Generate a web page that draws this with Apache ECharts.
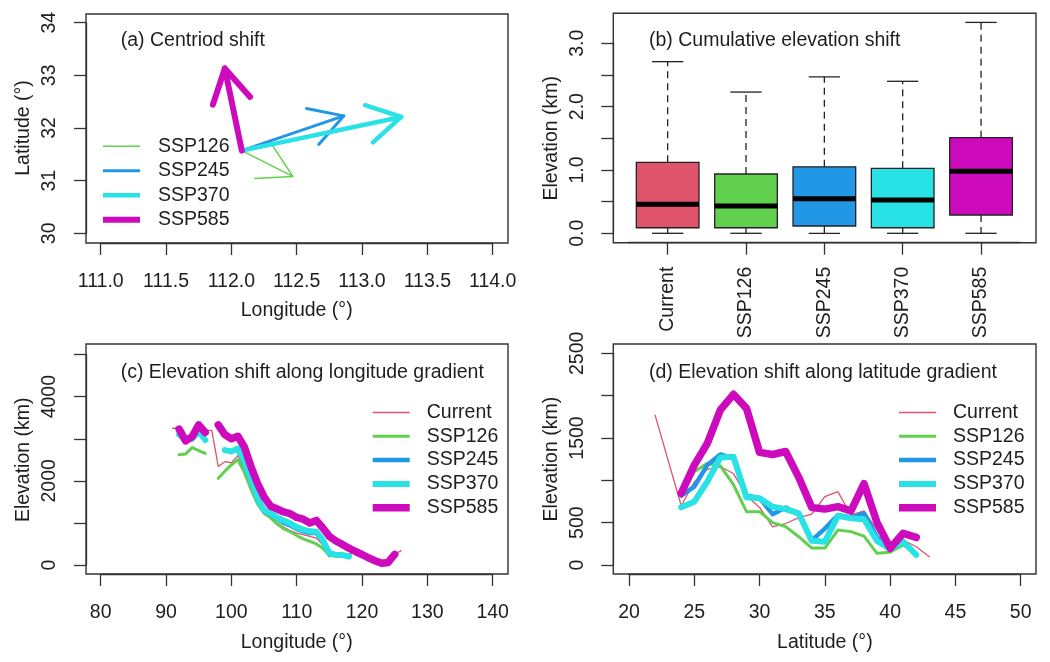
<!DOCTYPE html>
<html>
<head>
<meta charset="utf-8">
<script src="https://cdn.jsdelivr.net/npm/echarts@6/dist/echarts.min.js"></script>
<style>
html, body { margin: 0; padding: 0; background: #fff; }
#chart { width: 1050px; height: 662px; }
</style>
</head>
<body>
<div id="chart"></div>
<script>
// ---- data ----
const scenarios = ['SSP126', 'SSP245', 'SSP370', 'SSP585'];
const groups = ['Current', 'SSP126', 'SSP245', 'SSP370', 'SSP585'];

// (a) centroid shift: common start, one end per scenario
const startLon = 112.08, startLat = 31.57;
const endLon = [112.47, 112.86, 113.30, 111.95];
const endLat = [31.08, 32.23, 32.21, 33.13];

// (b) cumulative elevation shift (km)
const boxMin = [0, 0, 0, 0, 0];
const boxQ1 = [0.088, 0.088, 0.115, 0.088, 0.289];
const boxMed = [0.458, 0.43, 0.547, 0.526, 0.979];
const boxQ3 = [1.12, 0.936, 1.05, 1.026, 1.51];
const boxMax = [2.71, 2.23, 2.47, 2.40, 3.33];

// (c) elevation along longitude, 91..126
const lonC = [91, 92, 93, 94, 95, 96, 97, 98, 99, 100, 101, 102, 103, 104, 105, 106, 107, 108,
  109, 110, 111, 112, 113, 114, 115, 116, 117, 118, 119, 120, 121, 122, 123, 124, 125, 126];
const lonCurrent = [3250, 3250, 2950, 3050, 3300, 3200, 3200, 2340, 2455, 2430, 2600, 2250, 1900, 1500,
  1250, 1150, 1000, 900, 820, 760, 720, 680, 640, 480, 260, 240, 230, 250, 300, 250, 160, 80, 40, 60, 260, 340];
const lon126 = [null, 2620, 2640, 2790, 2720, 2650, null, 2060, 2230, 2380, 2500, 2200, 1800, 1450,
  1230, 1120, 980, 860, 790, 700, 620, 560, 500, 400, 220, 220, 230, null, null, null, null, null, null, null, null, null];
const lon245 = [null, 3150, 2980, 3000, 3150, 2980, null, null, 2720, 2700, 2750, 2400, 2000, 1580,
  1280, 1200, 1100, 1000, 940, 860, 800, 760, 760, 560, 260, 240, 240, 220, null, null, null, null, null, null, null, null];
const lon370 = [null, 3100, 2970, 3000, 3180, 2970, null, null, 2730, 2700, 2770, 2450, 2050, 1600,
  1300, 1230, 1130, 1060, 990, 900, 840, 800, 790, 590, 280, 240, 238, 200, null, null, null, null, null, null, null, null];
const lon585 = [null, 3230, 2950, 3050, 3330, 3150, null, 3330, 3100, 3000, 3060, 2800, 2340, 1940,
  1620, 1400, 1330, 1260, 1220, 1130, 1090, 1000, 1060, 880, 680, 570, 490, 400, 320, 250, 170, 100, 40, 60, 250, null];

// (d) elevation along latitude, 22..43
const latD = [22, 23, 24, 25, 26, 27, 28, 29, 30, 31, 32, 33, 34, 35, 36, 37, 38, 39, 40, 41, 42, 43];
const latCurrent = [1770, null, 700, 980, 1130, 1160, 1080, 820, 680, 450, 490, 560, 600, 807, 866, 590, 640, 413, 177, 295, 216, 98];
const lat126 = [null, null, 830, 1102, 1201, 1170, 950, 630, 630, 500, 453, 334, 200, 200, 413, 394, 340, 138, 150, 236, 138, null];
const lat245 = [null, null, 820, 925, 1181, 1305, 1260, 820, 790, 600, 680, 600, 290, 430, 590, 560, 610, 330, 190, 275, 120, null];
const lat370 = [null, null, 681, 748, 984, 1270, 1279, 800, 788, 689, 660, 610, 285, 275, 580, 551, 540, 285, 190, 275, 120, null];
const lat585 = [null, null, 847, 1180, 1437, 1831, 2016, 1850, 1330, 1305, 1340, 1035, 680, 660, 689, 640, 960, 500, 197, 374, 327, null];

// ---- style ----
const FONT = "'Liberation Sans', Arial, sans-serif";
const INK = '#1e1e1e';
const colors = {Current: '#DF536B', SSP126: '#61D04F', SSP245: '#2297E6', SSP370: '#28E2E5', SSP585: '#CD0BBC'};
const txt = {fontFamily: FONT, fontSize: 19.5, color: INK};

function frame(left, top, width, height) {
  return {left, top, width, height, show: true, borderColor: '#333', borderWidth: 1.4,
    backgroundColor: 'transparent', outerBoundsMode: 'none'};
}
function plot(left, top, width, height) {
  return {left, top, width, height, outerBoundsMode: 'none', containLabel: false};
}
function axis(gridIndex, offset, extra) {
  return Object.assign({
    gridIndex, offset, nameLocation: 'middle',
    axisLine: {show: true, onZero: false, lineStyle: {color: '#333', width: 1.3}},
    axisTick: {show: true, inside: false, length: 12, lineStyle: {color: '#333', width: 1.3}},
    splitLine: {show: false},
    axisLabel: Object.assign({margin: 26}, txt),
    nameTextStyle: Object.assign({}, txt)
  }, extra);
}
function legend(names, widths, left, top, pad, gap) {
  return {
    orient: 'vertical', left, top, padding: 0, itemWidth: 37, itemHeight: 19, itemGap: gap,
    selectedMode: false, itemStyle: {borderWidth: 0},
    textStyle: Object.assign({lineHeight: 19, padding: [0, 0, 0, pad]}, txt),
    data: names.map((n, i) => ({name: n, icon: 'path://M0,0H37V' + widths[i] + 'H0Z', itemStyle: {color: colors[n]}}))
  };
}
function title(text, left, top) {
  return {text, left, top, padding: 0, textStyle: Object.assign({fontWeight: 'normal'}, txt)};
}

function makeArrow(width) {
  return function (params, api) {
    const p0 = api.coord([api.value(0), api.value(1)]);
    const p1 = api.coord([api.value(2), api.value(3)]);
    const a = Math.atan2(p1[1] - p0[1], p1[0] - p0[0]);
    const L = 38, t = Math.PI / 6;
    const h1 = [p1[0] - L * Math.cos(a - t), p1[1] - L * Math.sin(a - t)];
    const h2 = [p1[0] - L * Math.cos(a + t), p1[1] - L * Math.sin(a + t)];
    const style = {stroke: api.visual('color'), lineWidth: width, lineCap: 'round', lineJoin: 'round', fill: null};
    return {type: 'group', children: [
      {type: 'line', shape: {x1: p0[0], y1: p0[1], x2: p1[0], y2: p1[1]}, style},
      {type: 'polyline', shape: {points: [h1, p1, h2]}, style}
    ]};
  };
}

function renderBox(params, api) {
  const i = api.value(0);
  const lo = api.coord([i, api.value(1)]);
  const q1 = api.coord([i, api.value(2)]);
  const md = api.coord([i, api.value(3)]);
  const q3 = api.coord([i, api.value(4)]);
  const hi = api.coord([i, api.value(5)]);
  const bw = api.size([1, 0])[0] * 0.8;
  const cw = bw / 2;
  const x = lo[0];
  const thin = {stroke: '#222', lineWidth: 1.3};
  const dash = {stroke: '#222', lineWidth: 1.3, lineDash: [7, 5]};
  return {type: 'group', children: [
    {type: 'line', shape: {x1: x, y1: q3[1], x2: x, y2: hi[1]}, style: dash},
    {type: 'line', shape: {x1: x, y1: q1[1], x2: x, y2: lo[1]}, style: dash},
    {type: 'line', shape: {x1: x - cw / 2, y1: hi[1], x2: x + cw / 2, y2: hi[1]}, style: thin},
    {type: 'line', shape: {x1: x - cw / 2, y1: lo[1], x2: x + cw / 2, y2: lo[1]}, style: thin},
    {type: 'rect', shape: {x: x - bw / 2, y: q3[1], width: bw, height: q1[1] - q3[1]},
      style: {fill: colors[groups[params.dataIndex]], stroke: '#222', lineWidth: 1.3}},
    {type: 'line', shape: {x1: x - bw / 2, y1: md[1], x2: x + bw / 2, y2: md[1]}, style: {stroke: '#000', lineWidth: 5}}
  ]};
}

function lineSeries(name, xs, ys, axisIdx, width, connect) {
  return {
    type: 'line', name, xAxisIndex: axisIdx, yAxisIndex: axisIdx,
    data: xs.map((x, i) => [x, ys[i] == null ? '-' : ys[i]]),
    symbol: 'none', showSymbol: false, clip: false, connectNulls: connect,
    color: colors[name],
    lineStyle: {width, color: colors[name], cap: 'round', join: 'round'}
  };
}

const arrowWidths = [1.5, 3, 4.5, 6];
const lineWidths = [1.3, 3, 4.5, 6, 7.5];
const arrowSeries = scenarios.map((s, i) => ({
  type: 'custom', name: s, xAxisIndex: 0, yAxisIndex: 0, clip: false,
  color: colors[s], itemStyle: {color: colors[s]},
  encode: {x: [0, 2], y: [1, 3]},
  data: [[startLon, startLat, endLon[i], endLat[i]]],
  renderItem: makeArrow(arrowWidths[i])
}));
const boxData = groups.map((g, i) => [i, boxMin[i], boxQ1[i], boxMed[i], boxQ3[i], boxMax[i]]);

const lonSets = [lonCurrent, lon126, lon245, lon370, lon585];
const latSets = [latCurrent, lat126, lat245, lat370, lat585];

const xLabel = (extra) => Object.assign({margin: 29}, txt, extra || {});
const yLabel = (extra) => Object.assign({margin: 26, rotate: 90}, txt, extra || {});

const option = {
  animation: false,
  backgroundColor: '#fff',
  title: [
    title('(a) Centriod shift', 120.7, 31),
    title('(b) Cumulative elevation shift', 649, 31),
    title('(c) Elevation shift along longitude gradient', 120.7, 363),
    title('(d) Elevation shift along latitude gradient', 649, 363)
  ],
  legend: [
    legend(scenarios, arrowWidths, 103, 136.2, 13, 4.5),
    legend(groups, lineWidths, 372.7, 402.5, 12, 3.8),
    legend(groups, lineWidths, 899, 402.5, 12, 3.8)
  ],
  grid: [
    frame(86, 14, 422, 229), plot(100.7, 22.7, 392, 210.6),
    frame(613.3, 13.3, 422.7, 229.4), plot(628.5, 43.3, 391.7, 190),
    frame(86, 344, 422, 230), plot(100.7, 354.6, 392, 210.4),
    frame(613.3, 344, 422.7, 230), plot(629, 353.3, 391.7, 211.7)
  ],
  xAxis: [
    axis(1, 9.7, {type: 'value', min: 111, max: 114, interval: 0.5, name: 'Longitude (°)', nameGap: 58,
      axisLabel: xLabel({formatter: v => v.toFixed(1)})}),
    axis(3, 9.4, {type: 'category', data: groups, boundaryGap: true,
      axisTick: {show: true, alignWithLabel: true, inside: false, length: 12, lineStyle: {color: '#333', width: 1.3}},
      axisLabel: Object.assign({margin: 24, rotate: 90, interval: 0}, txt)}),
    axis(5, 9, {type: 'value', min: 80, max: 140, interval: 10, name: 'Longitude (°)', nameGap: 59,
      axisLabel: xLabel()}),
    axis(7, 9, {type: 'value', min: 20, max: 50, interval: 5, name: 'Latitude (°)', nameGap: 59,
      axisLabel: xLabel()})
  ],
  yAxis: [
    axis(1, 14.7, {type: 'value', min: 30, max: 34, interval: 1, name: 'Latitude (°)', nameGap: 52,
      axisLabel: yLabel()}),
    axis(3, 15.2, {type: 'value', min: 0, max: 3, interval: 0.5, name: 'Elevation (km)', nameGap: 52,
      axisLabel: yLabel({formatter: v => (v % 1 === 0 ? v.toFixed(1) : '')})}),
    axis(5, 14.7, {type: 'value', min: 0, max: 5000, interval: 1000, name: 'Elevation (km)', nameGap: 52,
      axisLabel: yLabel({formatter: v => (v % 2000 === 0 ? String(v) : '')})}),
    axis(7, 15.7, {type: 'value', min: 0, max: 2500, interval: 500, name: 'Elevation (km)', nameGap: 52,
      axisLabel: yLabel({formatter: v => (v === 1000 || v === 2000 ? '' : String(v))})})
  ],
  series: [].concat(
    arrowSeries,
    [{type: 'custom', name: 'box', xAxisIndex: 1, yAxisIndex: 1, clip: false,
      encode: {x: 0, y: [1, 2, 3, 4, 5]}, data: boxData, renderItem: renderBox}],
    groups.map((g, i) => lineSeries(g, lonC, lonSets[i], 2, lineWidths[i], false)),
    groups.map((g, i) => lineSeries(g, latD, latSets[i], 3, lineWidths[i], true))
  )
};

const chart = echarts.init(document.getElementById('chart'), null, {renderer: 'canvas'});
chart.setOption(option);
</script>
</body>
</html>
